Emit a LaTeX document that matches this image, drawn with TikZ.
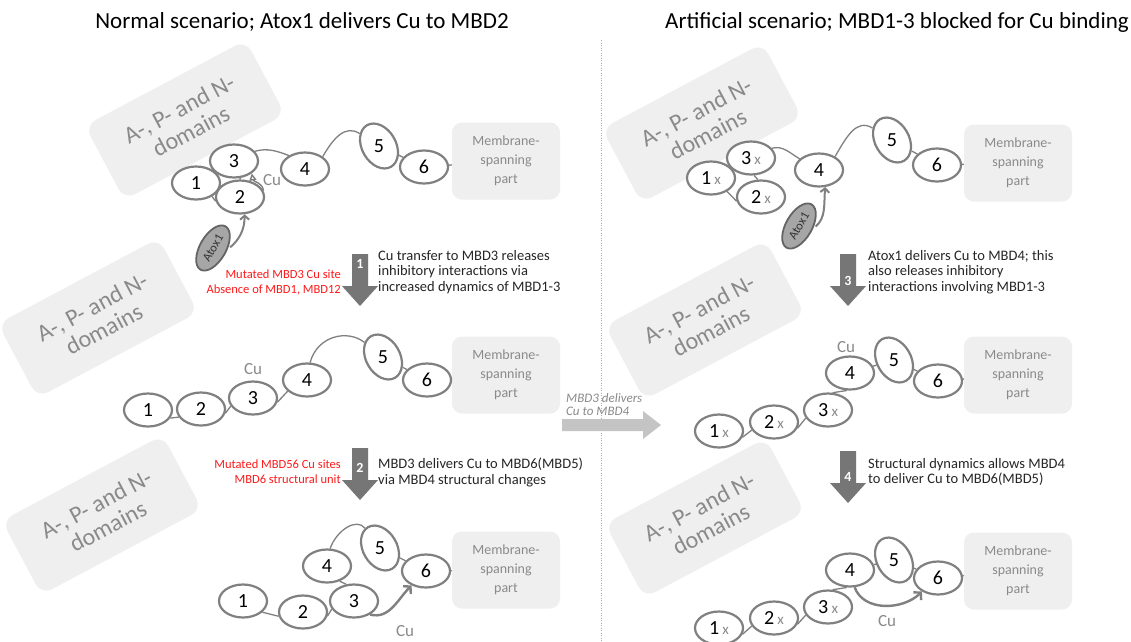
\documentclass[tikz,border=0pt]{standalone}
\usepackage{fontspec}
\setmainfont{Carlito}
\usetikzlibrary{shapes.geometric,arrows.meta}
\definecolor{linegray}{HTML}{808080}
\definecolor{boxgray}{HTML}{EFEFEF}
\definecolor{textgray}{HTML}{8A8A8A}
\definecolor{stepgray}{HTML}{767676}
\definecolor{lightarrow}{HTML}{C4C4C4}
\definecolor{atoxgray}{HTML}{A6A6A6}
\definecolor{mutred}{HTML}{FF1A1A}
\newcommand{\mbx}[1]{#1\,{\color{textgray}\fontsize{15}{15}\selectfont x}}
\begin{document}
\begin{tikzpicture}[x=1pt,y=-1pt,
  mbd/.style={ellipse,draw=linegray,line width=2.2pt,fill=white,minimum width=48pt,minimum height=33pt,inner sep=0pt,font=\fontsize{20}{20}\selectfont},
  tallmbd/.style={mbd,rotate=-60,minimum width=48pt,minimum height=34pt},
  atox/.style={ellipse,draw=stepgray!85!black,line width=1.8pt,fill=atoxgray,minimum width=50pt,minimum height=26pt,inner sep=0pt,rotate=60,text=black!80,font=\fontsize{12.5}{13}\selectfont},
  domainbox/.style={rounded corners=12pt,fill=boxgray,minimum width=182pt,minimum height=84pt,align=center,rotate=28,text=textgray,font=\fontsize{24}{25}\selectfont},
  membox/.style={rounded corners=10pt,fill=boxgray,minimum width=108pt,minimum height=77pt,align=center,text=textgray,font=\fontsize{14}{19}\selectfont},
  link/.style={draw=linegray,line width=1.3pt},
  cuarrow/.style={draw=linegray,line width=2.4pt,-{Straight Barb[length=5pt,width=11pt]}},
  atoxarrow/.style={draw=linegray,line width=2pt,shorten <=3pt,-{Straight Barb[length=4pt,width=9pt]}},
  steptext/.style={align=left,anchor=north west,inner sep=0pt,text=black!85,font=\fontsize{14.5}{15.5}\selectfont},
  redtext/.style={align=right,anchor=north east,inner sep=0pt,text=mutred,font=\fontsize{12.5}{14.5}\selectfont},
  stepnum/.style={inner sep=0pt,text=white,font=\bfseries\fontsize{14}{14}\selectfont},
  culabel/.style={inner sep=0pt,text=textgray,font=\fontsize{17}{17}\selectfont},
  title/.style={inner sep=0pt,font=\fontsize{23}{24}\selectfont}]
\useasboundingbox[fill=white] (0,0) rectangle (1131,641);

% titles and divider
\node[title] (tl) at (302,22) {Normal scenario; Atox1 delivers Cu to MBD2};
\node[title] (tr) at (897,22) {Artificial scenario; MBD1-3 blocked for Cu binding};
\draw[textgray!70,line width=0.6pt,dash pattern=on 1pt off 1.5pt] (601,40) -- (601,641);

% background boxes
\node[domainbox] (d1) at (185,120) {A-, P- and N-\\domains};
\node[domainbox] (d2) at (98,318) {A-, P- and N-\\domains};
\node[domainbox] (d3) at (102,515) {A-, P- and N-\\domains};
\node[domainbox] (d4) at (702,123) {A-, P- and N-\\domains};
\node[domainbox] (d5) at (705,320) {A-, P- and N-\\domains};
\node[domainbox] (d6) at (705,518) {A-, P- and N-\\domains};
\node[membox] (m1) at (506,161) {Membrane-\\spanning\\part};
\node[membox] (m2) at (506,375) {Membrane-\\spanning\\part};
\node[membox] (m3) at (506,570) {Membrane-\\spanning\\part};
\node[membox] (m4) at (1018,163) {Membrane-\\spanning\\part};
\node[membox] (m5) at (1018,375) {Membrane-\\spanning\\part};
\node[membox] (m6) at (1018,571) {Membrane-\\spanning\\part};

% normal scenario, start
\node[mbd] (p1) at (196,183) {1};
\node[mbd] (p2) at (240,197) {2};
\node[mbd] (p3) at (234,161) {3};
\node[mbd] (p4) at (305,169) {4};
\node[tallmbd] (p5) at (379,146) {\rotatebox{60}{5}};
\node[mbd] (p6) at (424,167) {6};
\node[culabel] (cu1) at (272,180) {Cu};
\node[atox] (at1) at (213,248) {Atox1};
\draw[link] (p1.-40) -- (p2.190);
\draw[link] (p3.-70) -- (p2.90);
\draw[link] (p3.25) to[out=15,in=160] (p4.140);
\draw[link] (p4.35) to[out=60,in=180] (p5);
\draw[link] (p5) -- (p6);
\draw[link] (p6) -- (m1);
\draw[draw=linegray,line width=1.4pt,-{Triangle[open,length=7pt,width=7pt]}] (p2.15) to[out=95,in=-80] (p3.-35);
\draw[atoxarrow] (at1.-65) to[out=40,in=-90] (p2.-75);

% step 1
\fill[stepgray] (352,254) -- (368,254) -- (368,286) -- (378,286) -- (360,306) -- (342,286) -- (352,286) -- cycle;
\node[stepnum] (n1) at (360,264) {1};
\node[steptext] (t1) at (378,250) {Cu transfer to MBD3 releases\\inhibitory interactions via\\increased dynamics of MBD1-3};
\node[redtext] (r1) at (341,270) {Mutated MBD3 Cu site\\Absence of MBD1, MBD12};

% normal scenario, Cu on MBD3
\node[mbd] (q1) at (148,410) {1};
\node[mbd] (q2) at (201,409) {2};
\node[mbd] (q3) at (253,398) {3};
\node[mbd] (q4) at (307,380) {4};
\node[tallmbd] (q5) at (383,357) {\rotatebox{60}{5}};
\node[mbd] (q6) at (427,380) {6};
\node[culabel] (cu2) at (253,369) {Cu};
\draw[link] (q1.-20) -- (q2.-160);
\draw[link] (q2.-10) -- (q3.-160);
\draw[link] (q3.-10) -- (q4.-150);
\draw[link] (q4.80) to[out=75,in=170] (q5);
\draw[link] (q5) -- (q6);
\draw[link] (q6) -- (m2);

% shortcut between scenarios
\fill[lightarrow] (562,419) -- (643,419) -- (643,411) -- (661,425) -- (643,439) -- (643,431) -- (562,431) -- cycle;
\node[inner sep=0pt,anchor=north west,align=left,text=textgray,font=\itshape\fontsize{13}{13}\selectfont] (mid) at (566,393) {MBD3 delivers\\Cu to MBD4};

% step 2
\fill[stepgray] (352,448) -- (368,448) -- (368,480) -- (378,480) -- (360,500) -- (342,480) -- (352,480) -- cycle;
\node[stepnum] (n2) at (360,468) {2};
\node[steptext] (t2) at (378,458) {MBD3 delivers Cu to MBD6(MBD5)\\via MBD4 structural changes};
\node[redtext] (r2) at (341,460) {Mutated MBD56 Cu sites\\MBD6 structural unit};

% normal scenario, Cu to MBD6
\node[mbd] (s1) at (243,601) {1};
\node[mbd] (s2) at (303,612) {2};
\node[mbd] (s3) at (354,601) {3};
\node[mbd] (s4) at (327,566) {4};
\node[tallmbd] (s5) at (380,548) {\rotatebox{60}{5}};
\node[mbd] (s6) at (426,571) {6};
\node[culabel] (cu3) at (405,631) {Cu};
\draw[link] (s1.-30) -- (s2.190);
\draw[link] (s2.-10) -- (s3.-160);
\draw[link] (s3.115) -- (s4.-50);
\draw[link] (s4.80) to[out=70,in=160] (s5);
\draw[link] (s5) -- (s6);
\draw[link] (s6) -- (m3);
\draw[cuarrow] (s3.-40) to[out=-15,in=-135] (s6.-135);

% artificial scenario, start
\node[mbd] (a1) at (711,178) {\mbx{1}};
\node[mbd] (a2) at (761,197) {\mbx{2}};
\node[mbd] (a3) at (751,158) {\mbx{3}};
\node[mbd] (a4) at (819,170) {4};
\node[tallmbd] (a5) at (892,140) {\rotatebox{60}{5}};
\node[mbd] (a6) at (937,165) {6};
\node[atox] (at2) at (799,226) {Atox1};
\draw[link] (a1.-40) -- (a2.190);
\draw[link] (a3.-80) -- (a2.100);
\draw[link] (a3.25) to[out=15,in=150] (a4);
\draw[link] (a4.40) to[out=60,in=180] (a5);
\draw[link] (a5) -- (a6);
\draw[link] (a6) -- (m4);
\draw[atoxarrow] (at2.-70) to[out=40,in=-95] (a4.-70);

% step 3
\fill[stepgray] (840,254) -- (856,254) -- (856,286) -- (866,286) -- (848,306) -- (830,286) -- (840,286) -- cycle;
\node[stepnum] (n3) at (848,281) {3};
\node[steptext] (t3) at (868,250) {Atox1 delivers Cu to MBD4; this\\also releases inhibitory\\interactions involving MBD1-3};

% artificial scenario, Cu on MBD4
\node[mbd] (b1) at (719,431) {\mbx{1}};
\node[mbd] (b2) at (774,422) {\mbx{2}};
\node[mbd] (b3) at (828,410) {\mbx{3}};
\node[mbd] (b4) at (850,373) {4};
\node[tallmbd] (b5) at (894,360) {\rotatebox{60}{5}};
\node[mbd] (b6) at (938,381) {6};
\node[culabel] (cu4) at (846,347) {Cu};
\draw[link] (b1.-15) -- (b2.-160);
\draw[link] (b2.-15) -- (b3.-160);
\draw[link] (b3.75) -- (b4.-100);
\draw[link] (b4) -- (b5);
\draw[link] (b5) -- (b6);
\draw[link] (b6) -- (m5);

% step 4
\fill[stepgray] (840,451) -- (856,451) -- (856,483) -- (866,483) -- (848,503) -- (830,483) -- (840,483) -- cycle;
\node[stepnum] (n4) at (848,477) {4};
\node[steptext] (t4) at (868,458) {Structural dynamics allows MBD4\\to deliver Cu to MBD6(MBD5)};

% artificial scenario, Cu to MBD6
\node[mbd] (c1) at (719,628) {\mbx{1}};
\node[mbd] (c2) at (774,618) {\mbx{2}};
\node[mbd] (c3) at (828,607) {\mbx{3}};
\node[mbd] (c4) at (850,570) {4};
\node[tallmbd] (c5) at (894,560) {\rotatebox{60}{5}};
\node[mbd] (c6) at (938,578) {6};
\node[culabel] (cu5) at (887,621) {Cu};
\draw[link] (c1.-15) -- (c2.-160);
\draw[link] (c2.-15) -- (c3.-160);
\draw[link] (c3.75) -- (c4.-100);
\draw[link] (c4) -- (c5);
\draw[link] (c5) -- (c6);
\draw[link] (c6) -- (m6);
\draw[cuarrow] (c4.-75) to[out=-70,in=-135] (c6.-140);
\end{tikzpicture}
\end{document}
